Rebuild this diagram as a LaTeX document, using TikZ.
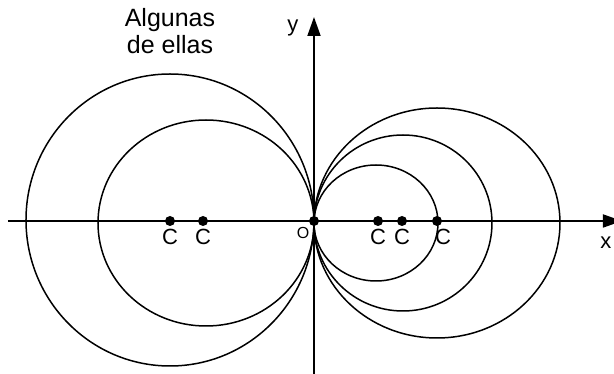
\documentclass[tikz,border=0pt]{standalone}
\usepackage{fontspec}
\setmainfont{Liberation Sans}
\usetikzlibrary{arrows.meta, positioning}

\begin{document}
\begin{tikzpicture}[
    x=1pt, y=1pt,
    circ/.style={
        draw=black,
        line width=1.5pt
    },
    axis/.style={
        -{Triangle[length=19pt,width=13pt]},
        line width=1.8pt
    },
    dot/.style={
        circle,
        fill=black,
        inner sep=0pt,
        minimum size=10pt
    },
    lbl/.style={
        inner sep=1pt,
        font=\fontsize{22}{24}\selectfont
    }
]
    \useasboundingbox (-314,-153) rectangle (300,221);

    % axes
    \coordinate (xmin) at (-306,0);
    \coordinate (xmax) at (308,0);
    \coordinate (ymin) at (0,-153);
    \coordinate (ymax) at (0,204);
    \draw[axis] (xmin) -- (xmax);
    \draw[axis] (ymin) -- (ymax);

    % the circles through the origin
    \draw[circ] (-144,1) ellipse [x radius=144, y radius=146];
    \draw[circ] (-108,-2) ellipse [x radius=108, y radius=103];
    \draw[circ] (62,-2) ellipse [x radius=62, y radius=58];
    \draw[circ] (89,-2) ellipse [x radius=89, y radius=88];
    \draw[circ] (123,-2) ellipse [x radius=123, y radius=115];

    % centres
    \node[dot] (o) at (0,0) {};
    \node[dot] (c1) at (-144,0) {};
    \node[dot] (c2) at (-111,0) {};
    \node[dot] (c3) at (64,0) {};
    \node[dot] (c4) at (88,0) {};
    \node[dot] (c5) at (123,0) {};
    \node[lbl, below=2pt of c1] (l1) {C};
    \node[lbl, below=2pt of c2] (l2) {C};
    \node[lbl, below=2pt of c3] (l3) {C};
    \node[lbl, below=2pt of c4] (l4) {C};
    \node[lbl, below=2pt of c5, xshift=6pt] (l5) {C};

    \node[lbl, font=\fontsize{16}{18}\selectfont] (ol) at (-11,-12) {O};
    \node[lbl] (xl) at (292,-22) {x};
    \node[lbl] (yl) at (-21,193) {y};
    \node[lbl, align=center, font=\fontsize{25}{27}\selectfont] (title) at (-144,190) {Algunas\\de ellas};
\end{tikzpicture}
\end{document}
